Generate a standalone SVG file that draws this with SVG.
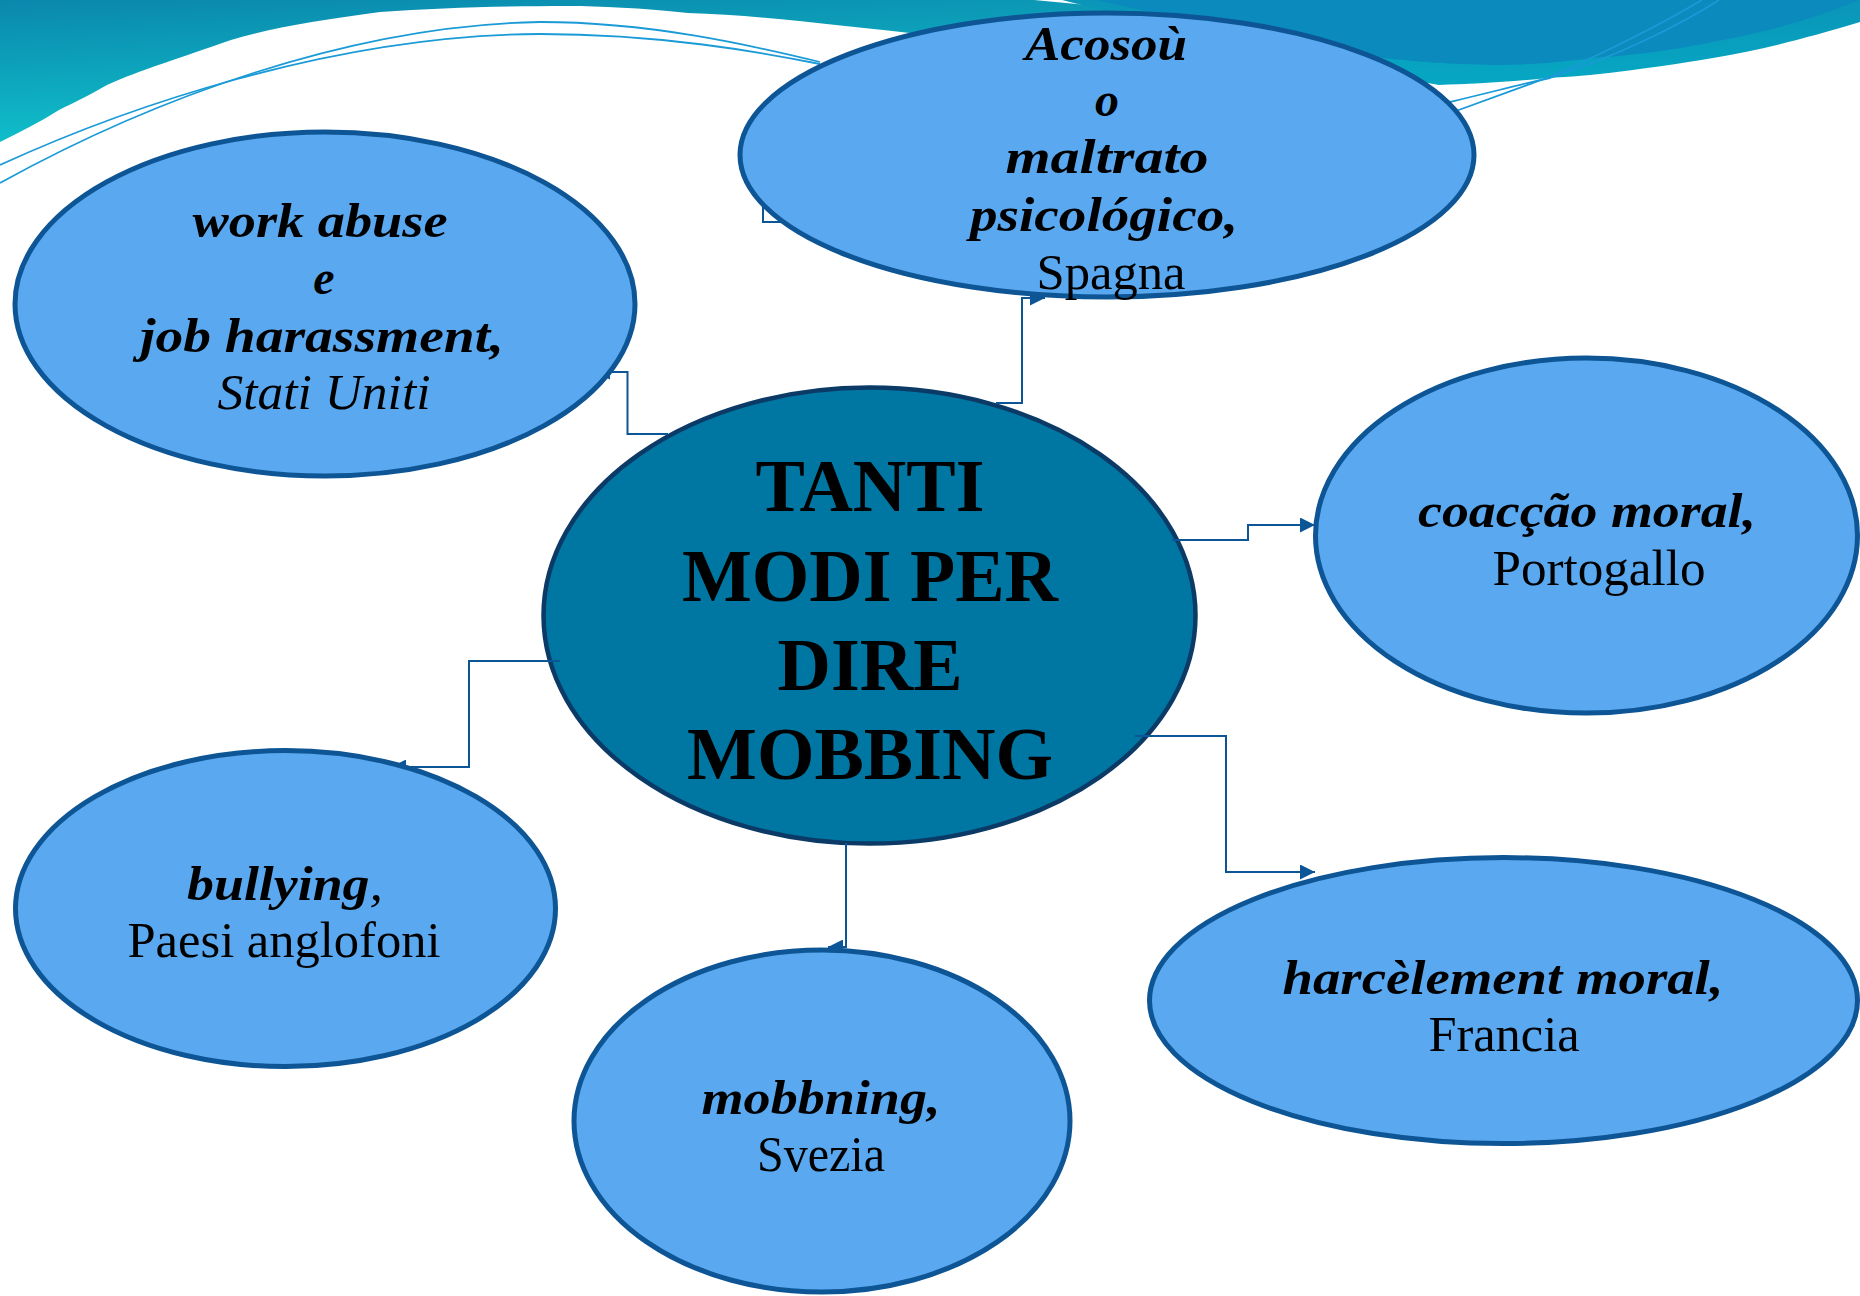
<svg xmlns="http://www.w3.org/2000/svg" width="1860" height="1296" viewBox="0 0 1860 1296">
<defs>
<linearGradient id="gl" x1="0" y1="0" x2="0.3" y2="1">
<stop offset="0" stop-color="#0a88ad"/>
<stop offset="1" stop-color="#10c2cc"/>
</linearGradient>
<linearGradient id="gr" x1="0" y1="0" x2="0" y2="1">
<stop offset="0" stop-color="#0a95b8"/>
<stop offset="1" stop-color="#06a8c4"/>
</linearGradient>
<marker id="arr" viewBox="0 0 10 10" refX="10" refY="5" markerWidth="15" markerHeight="15" markerUnits="userSpaceOnUse" orient="auto">
<path d="M0,0 L10,5 L0,10 z" fill="#0c5597"/>
</marker>
<style>
.node{fill:#59a8f0;stroke:#0d5595;stroke-width:5}
.center{fill:#0077a3;stroke:#0b3a66;stroke-width:4.5}
.conn{fill:none;stroke:#0c5597;stroke-width:2}
.deco{fill:none;stroke:#1a9ad6;stroke-width:1.8}
.bi{font-family:"Liberation Serif",serif;font-weight:bold;font-style:italic;font-size:48px;fill:#000}
.it{font-family:"Liberation Serif",serif;font-style:italic;font-size:50px;fill:#000}
.rg{font-family:"Liberation Serif",serif;font-size:50px;fill:#000}
.ct{font-family:"Liberation Serif",serif;font-weight:bold;font-size:74px;fill:#000}
text{text-anchor:middle}
</style>
</defs>
<rect width="1860" height="1296" fill="#ffffff"/>
<g id="banner">
<path d="M0,0 L1034,0 L1140,10 L1140,45 C1040,42 980,38 930,35 C840,26 760,15 688,13 C640,8 600,6 569,6 C500,6 440,8 380,12 C320,20 270,28 231,40 C180,58 140,70 107,85 C90,95 75,102 59,110 C40,122 20,132 0,142 Z" fill="url(#gl)"/>
<path d="M1062,0 L1860,0 L1860,22 C1800,40 1760,50 1713,58 C1640,70 1590,76 1548,78 C1510,82 1470,84 1439,85 L1300,60 Z" fill="url(#gr)"/>
<path d="M1096,0 L1860,0 C1830,12 1800,22 1768,30 C1700,46 1650,54 1603,57 C1560,62 1530,65 1494,65 C1450,64 1420,62 1384,58 L1300,45 Z" fill="#0a8abd"/>
<path class="deco" d="M0,183 C150,100 350,25 540,22 C650,22 750,45 820,62"/>
<path class="deco" d="M0,165 C120,110 330,35 540,34 C660,34 760,52 820,64"/>
<path class="deco" d="M1450,102 C1500,90 1530,82 1550,78 C1620,55 1680,25 1719,0"/>
<path class="deco" d="M1456,111 C1500,95 1530,84 1552,76 C1610,50 1660,25 1702,0"/>
</g>
<g id="node-center">
<ellipse class="center" cx="869.5" cy="615.6" rx="326" ry="228"/>
<text class="ct" x="870" y="511">TANTI</text>
<text class="ct" x="870" y="601">MODI PER</text>
<text class="ct" x="870" y="690">DIRE</text>
<text class="ct" x="870" y="779">MOBBING</text>
</g>
<g id="connectors">
<path class="conn" d="M668,434 H627.5 V372 H595" marker-end="url(#arr)"/>
<path class="conn" d="M996,403 H1022 V298 H1045" marker-end="url(#arr)"/>
<path class="conn" d="M1172,540 H1248 V525 H1315" marker-end="url(#arr)"/>
<path class="conn" d="M1135,736 H1226 V872 H1315" marker-end="url(#arr)"/>
<path class="conn" d="M560,661 H469 V767 H391" marker-end="url(#arr)"/>
<path class="conn" d="M846,843 V947 H828" marker-end="url(#arr)"/>
<path class="conn" d="M800,222 H763 V190"/>
</g>
<g id="node-work">
<ellipse class="node" cx="325" cy="304" rx="310" ry="172"/>
<text class="bi" x="320" y="237" textLength="255" lengthAdjust="spacingAndGlyphs">work abuse</text>
<text class="bi" x="324" y="294">e</text>
<text class="bi" x="322" y="352" textLength="364" lengthAdjust="spacingAndGlyphs">job harassment,</text>
<text class="it" x="324" y="409" textLength="213" lengthAdjust="spacingAndGlyphs">Stati Uniti</text>
</g>
<g id="node-acoso">
<ellipse class="node" cx="1107" cy="155" rx="367" ry="142"/>
<text class="bi" x="1106" y="60" textLength="162" lengthAdjust="spacingAndGlyphs">Acosoù</text>
<text class="bi" x="1107" y="116">o</text>
<text class="bi" x="1107" y="173" textLength="203" lengthAdjust="spacingAndGlyphs">maltrato</text>
<text class="bi" x="1104" y="231" textLength="268" lengthAdjust="spacingAndGlyphs">psicológico,</text>
<text class="rg" x="1111" y="289" textLength="149" lengthAdjust="spacingAndGlyphs">Spagna</text>
</g>
<g id="node-coaccao">
<ellipse class="node" cx="1586.5" cy="535.6" rx="271" ry="177.5"/>
<text class="bi" x="1587" y="527" textLength="338" lengthAdjust="spacingAndGlyphs">coacção moral,</text>
<text class="rg" x="1599" y="585" textLength="213" lengthAdjust="spacingAndGlyphs">Portogallo</text>
</g>
<g id="node-harcelement">
<ellipse class="node" cx="1503.5" cy="1000.6" rx="354" ry="143"/>
<text class="bi" x="1503" y="994" textLength="441" lengthAdjust="spacingAndGlyphs">harcèlement moral,</text>
<text class="rg" x="1504" y="1051" textLength="151" lengthAdjust="spacingAndGlyphs">Francia</text>
</g>
<g id="node-mobbning">
<ellipse class="node" cx="822" cy="1121" rx="248" ry="171"/>
<text class="bi" x="821" y="1114" textLength="239" lengthAdjust="spacingAndGlyphs">mobbning,</text>
<text class="rg" x="821" y="1171" textLength="128" lengthAdjust="spacingAndGlyphs">Svezia</text>
</g>
<g id="node-bullying">
<ellipse class="node" cx="285.5" cy="908.6" rx="270" ry="158"/>
<text class="bi" x="285" y="900" textLength="196" lengthAdjust="spacingAndGlyphs">bullying<tspan font-weight="normal">,</tspan></text>
<text class="rg" x="284" y="957" textLength="313" lengthAdjust="spacingAndGlyphs">Paesi anglofoni</text>
</g>
</svg>
